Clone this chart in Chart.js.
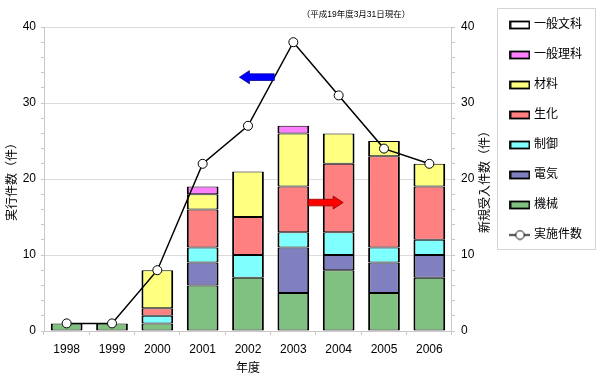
<!DOCTYPE html>
<html><head><meta charset="utf-8">
<script src="https://cdn.jsdelivr.net/npm/chart.js@4"></script>
<style>html,body{margin:0;padding:0;background:#fff}#wrap{width:600px;height:379px;position:relative}</style>
</head><body><div id="wrap"><canvas id="c" width="600" height="379"></canvas></div>
<script>
// ---- data ----
const years = ['1998','1999','2000','2001','2002','2003','2004','2005','2006'];
const kikai      = [1,1,1,6,7,5,8,5,7];    // 機械
const denki      = [0,0,0,3,0,6,2,4,3];    // 電気
const seigyo     = [0,0,1,2,3,2,3,2,2];    // 制御
const seika      = [0,0,1,5,5,6,9,12,7];   // 生化
const zairyo     = [0,0,5,2,6,7,4,2,3];    // 材料
const ippanRika  = [0,0,0,1,0,1,0,0,0];    // 一般理科
const ippanBunka = [0,0,0,0,0,0,0,0,0];    // 一般文科
const jisshi     = [1,1,8,22,27,38,31,24,22]; // 実施件数
const majorTicks = [0,10,20,30,40];
const seriesNames = ['機械','電気','制御','生化','材料','一般理科','一般文科'];
const seriesColors = ['#80C080','#8080C0','#80FFFF','#FF8080','#FFFF80','#FF80FF','#FFFFFF'];
const lineName = '実施件数';
const leftTitle = '実行件数（件）';
const rightTitle = '新規受入件数（件）';
const xTitle = '年度';
const note = '（平成19年度3月31日現在）';

const FONT = "'Liberation Sans','Noto Sans CJK JP',sans-serif";
Chart.defaults.font.family = FONT;
Chart.defaults.font.size = 12;
Chart.defaults.color = '#000';

function boxImg(color){
  const c = document.createElement('canvas'); c.width = 21; c.height = 10;
  const g = c.getContext('2d');
  g.fillStyle = color; g.fillRect(1,1,19,8);
  g.strokeStyle = '#000'; g.lineWidth = 1.8; g.strokeRect(1,1.5,19,7);
  return c;
}
function lineImg(){
  const c = document.createElement('canvas'); c.width = 21; c.height = 11;
  const g = c.getContext('2d');
  g.strokeStyle = '#000'; g.lineWidth = 1.5;
  g.beginPath(); g.moveTo(0,5.5); g.lineTo(21,5.5); g.stroke();
  g.fillStyle = '#fff'; g.lineWidth = 1;
  g.beginPath(); g.arc(10.5,5.5,4.3,0,Math.PI*2); g.fill(); g.stroke();
  return c;
}

const barSeries = [kikai, denki, seigyo, seika, zairyo, ippanRika, ippanBunka];
const datasets = barSeries.map((arr,i)=>({
  type:'bar', label: seriesNames[i], data: arr.map(v=> v===0 ? null : v),
  backgroundColor: seriesColors[i], borderColor:'#000',
  borderWidth:{top:1,bottom:1,left:2,right:2}, borderSkipped:false,
  xAxisID:'x', yAxisID:'y', stack:'s', order:1, barPercentage:0.7, categoryPercentage:1.0,
  _img: boxImg(seriesColors[i])
}));
datasets.push({
  type:'line', label: lineName, data: jisshi, xAxisID:'x', yAxisID:'y2', order:0,
  borderColor:'#000', borderWidth:1.5, tension:0,
  pointRadius:4.5, pointBackgroundColor:'#fff', pointBorderColor:'#000', pointBorderWidth:1,
  _img: lineImg()
});

const extras = {
  id:'extras',
  afterDraw(chart){
    const ctx = chart.ctx, ca = chart.chartArea;
    const xs = chart.scales.x, ys = chart.scales.y, y2 = chart.scales.y2;
    // right axis title reading bottom-to-top
    ctx.save();
    ctx.font = '12px ' + FONT; ctx.fillStyle = '#000';
    ctx.textAlign='center'; ctx.textBaseline='middle';
    ctx.translate(y2.right - 8, (ca.top+ca.bottom)/2);
    ctx.rotate(-Math.PI/2);
    ctx.fillText(rightTitle, 0, 0);
    ctx.restore();
    // note
    ctx.save();
    ctx.font = '8.5px ' + FONT; ctx.fillStyle='#000';
    ctx.textAlign='center'; ctx.textBaseline='middle';
    ctx.fillText(note, ca.right - 96, 15);
    ctx.restore();
    // arrows
    function arrow(x0, x1, yv, fill, stroke){
      const y = ys.getPixelForValue(yv);
      const px0 = xs.getPixelForValue(x0), px1 = xs.getPixelForValue(x1);
      const dir = Math.sign(px1 - px0);
      const headL = 10, shaft = 3.3, head = 6.5;
      const hb = px1 - dir*headL;
      ctx.save();
      ctx.beginPath();
      ctx.moveTo(px0, y-shaft); ctx.lineTo(hb, y-shaft); ctx.lineTo(hb, y-head);
      ctx.lineTo(px1, y); ctx.lineTo(hb, y+head); ctx.lineTo(hb, y+shaft);
      ctx.lineTo(px0, y+shaft); ctx.closePath();
      ctx.fillStyle = fill; ctx.fill();
      ctx.strokeStyle = stroke; ctx.lineWidth = 0.8; ctx.stroke();
      ctx.restore();
    }
    arrow(4.58, 3.81, 33.4, '#0000FF', '#000090');
    arrow(5.33, 6.10, 16.9, '#FF0000', '#900000');
    // legend frame
    const lg = chart.legend;
    if (lg && lg.legendHitBoxes && lg.legendHitBoxes.length){
      const hb = lg.legendHitBoxes;
      const first = hb[0], last = hb[hb.length-1];
      const left = first.left - 15, top = first.top - 11;
      const bottom = last.top + last.height + 8;
      const right = 595;
      ctx.save();
      ctx.strokeStyle = '#d4d4d4'; ctx.lineWidth = 1;
      ctx.strokeRect(Math.round(left)+0.5, Math.round(top)+0.5, Math.round(right-left), Math.round(bottom-top));
      ctx.restore();
    }
  }
};

const legendOrder = ['一般文科','一般理科','材料','生化','制御','電気','機械','実施件数'];

new Chart(document.getElementById('c'), {
  data:{ labels: years, datasets },
  options:{
    responsive:false, animation:false, devicePixelRatio:1,
    layout:{ padding:{ left:0, right:8, top:1, bottom:3 } },
    plugins:{
      tooltip:{enabled:false},
      legend:{
        position:'right', align:'start',
        labels:{
          usePointStyle:true, pointStyleWidth:16, padding:18,
          font:{size:12, family:FONT}, color:'#000',
          generateLabels(chart){
            const items = chart.data.datasets.map((ds,i)=>({
              text: ds.label, pointStyle: ds._img, datasetIndex:i,
              fillStyle:'transparent', strokeStyle:'transparent', lineWidth:0, hidden:false
            }));
            return legendOrder.map(n=>items.find(it=>it.text===n));
          }
        }
      }
    },
    scales:{
      x:{ stacked:true, offset:true, position:'bottom',
        grid:{ drawOnChartArea:false, offset:true, tickLength:4, color:'#c8c8c8' },
        border:{ color:'#c8c8c8' },
        ticks:{ padding:7, font:{size:12}, color:'#000' },
        title:{ display:true, text:xTitle, font:{size:12}, color:'#000', padding:{top:4,bottom:0} },
        afterFit(s){ s.height = 45; } },
      xTop:{ type:'category', position:'top', labels: years, display:true,
        grid:{display:false}, border:{display:false}, ticks:{display:false},
        afterFit(s){ s.height = 26; } },
      y:{ stacked:true, position:'left', min:0, max:40,
        ticks:{ stepSize:2, autoSkip:false, padding:5, color:'#000', font:{size:12},
          callback:(v)=> majorTicks.includes(v) ? String(v) : '' },
        grid:{ color:(c)=> (c.tick && majorTicks.includes(c.tick.value) && c.tick.value!==0) ? '#dcdcdc' : 'rgba(0,0,0,0)',
          tickColor:'#c8c8c8', tickLength:3 },
        border:{ color:'#c8c8c8' },
        title:{ display:true, text:leftTitle, font:{size:12}, color:'#000', padding:{top:5,bottom:3} },
        afterFit(s){ s.width = 44; } },
      y2:{ position:'right', min:0, max:40, stacked:false,
        ticks:{ stepSize:2, autoSkip:false, padding:6, color:'#000', font:{size:12},
          callback:(v)=> majorTicks.includes(v) ? String(v) : '' },
        grid:{ drawOnChartArea:false, tickColor:'#c8c8c8', tickLength:3 },
        border:{ color:'#c8c8c8' },
        title:{ display:true, text:rightTitle, font:{size:12}, color:'rgba(0,0,0,0)', padding:{top:0,bottom:4} },
        afterFit(s){ s.width = 42; } }
    }
  },
  plugins:[extras]
});
</script></body></html>
